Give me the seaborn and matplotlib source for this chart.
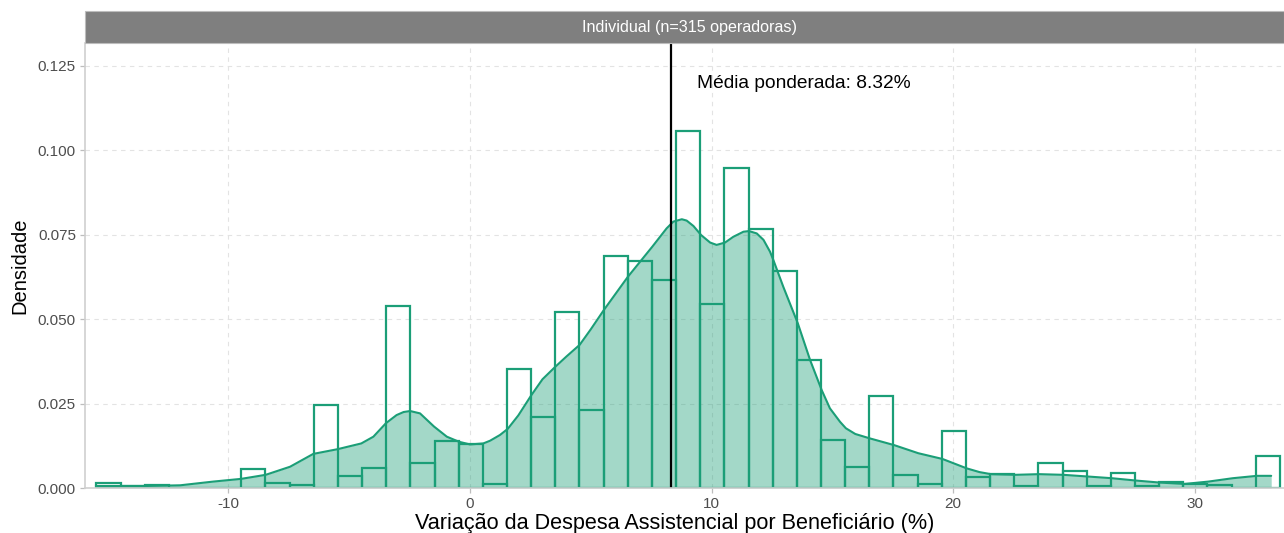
import pandas as pd
import seaborn as sns
import matplotlib.pyplot as plt
from matplotlib.patches import Rectangle

# Histogram (density per bin, bin width 1, first edge -15.47)
first_edge = -15.47
bin_width = 1.0
hist_density = [
    0.0014, 0.0005, 0.0008, 0.0, 0.0, 0.0, 0.0055, 0.0016, 0.0008, 0.0246,
    0.0036, 0.0058, 0.0540, 0.0073, 0.0139, 0.0129, 0.0012, 0.0352, 0.0211, 0.0520,
    0.0231, 0.0687, 0.0671, 0.0616, 0.1058, 0.0546, 0.0949, 0.0766, 0.0644, 0.0380,
    0.0142, 0.0063, 0.0273, 0.0039, 0.0012, 0.0168, 0.0034, 0.0041, 0.0007, 0.0075,
    0.0049, 0.0007, 0.0045, 0.0007, 0.0017, 0.0012, 0.0010, 0.0, 0.0095,
]

# Density curve
kde_x = [-15.49, -13.4, -12.0, -10.63, -9.48, -8.46, -7.45, -6.49, -5.48, -4.5,
         -4.0, -3.48, -3.04, -2.75, -2.48, -2.07, -1.49, -0.96, -0.46, 0.0,
         0.55, 0.83, 1.24, 1.56, 2.0, 2.54, 3.0, 3.53, 4.0, 4.54,
         5.0, 5.54, 6.54, 7.55, 8.14, 8.42, 8.77, 8.97, 9.25, 9.57,
         9.94, 10.21, 10.56, 10.9, 11.32, 11.55, 11.87, 12.15, 12.42, 12.56,
         12.97, 13.57, 14.08, 14.56, 14.9, 15.32, 15.56, 15.95, 16.55, 17.56,
         18.56, 19.56, 20.57, 21.1, 21.57, 22.57, 23.56, 24.57, 25.58, 26.57,
         27.58, 28.57, 29.58, 30.57, 31.58, 32.58, 33.17]
kde_y = [0.0006, 0.0006, 0.0008, 0.0019, 0.0027, 0.0039, 0.0063, 0.0101, 0.0115, 0.0132,
         0.0152, 0.0192, 0.0216, 0.0225, 0.0228, 0.0221, 0.0182, 0.0152, 0.0137, 0.0129,
         0.0132, 0.0140, 0.0157, 0.0175, 0.0215, 0.0275, 0.0322, 0.0359, 0.0390, 0.0424,
         0.0470, 0.0527, 0.0626, 0.0715, 0.0769, 0.0789, 0.0796, 0.0792, 0.0776, 0.0749,
         0.0727, 0.0720, 0.0727, 0.0744, 0.0759, 0.0761, 0.0754, 0.0735, 0.0700, 0.0675,
         0.0596, 0.0488, 0.0379, 0.0290, 0.0236, 0.0196, 0.0177, 0.0160, 0.0147, 0.0127,
         0.0103, 0.0086, 0.0058, 0.0047, 0.0041, 0.0039, 0.0041, 0.0039, 0.0034, 0.0029,
         0.0022, 0.0016, 0.0012, 0.0019, 0.0029, 0.0036, 0.0036]

weighted_mean = 8.32
x_ticks = [-10, 0, 10, 20, 30]
y_ticks = [0.0, 0.025, 0.050, 0.075, 0.100, 0.125]
y_tick_labels = ["0.000", "0.025", "0.050", "0.075", "0.100", "0.125"]

green = "#1b9e77"

sns.set_theme(style="white")
plt.rcParams["font.family"] = ["Liberation Sans", "DejaVu Sans"]
plt.rcParams["axes.unicode_minus"] = False

edges = [first_edge + bin_width * i for i in range(len(hist_density) + 1)]
hist_df = pd.DataFrame({
    "center": [(a + b) / 2 for a, b in zip(edges[:-1], edges[1:])],
    "density": hist_density,
})

fig = plt.figure(figsize=(12.84, 5.33), dpi=100)
ax = fig.add_axes([85 / 1284, 45 / 533, 1 - 85 / 1284, 445 / 533])

sns.histplot(data=hist_df, x="center", weights="density", bins=edges, stat="count",
             fill=False, element="bars", color=green, linewidth=1.6, ax=ax)
ax.fill_between(kde_x, kde_y, color=green, alpha=0.4, linewidth=0)
sns.lineplot(x=kde_x, y=kde_y, color=green, linewidth=1.5, ax=ax)

ax.axvline(weighted_mean, color="black", linewidth=1.6)
ax.text(9.4, 0.1197, f"Média ponderada: {weighted_mean:.2f}%", fontsize=13.8,
        ha="left", va="center", color="black")

ax.set_xlim(-15.94, 33.7)
ax.set_ylim(0, 0.1318)
ax.set_xticks(x_ticks)
ax.set_yticks(y_ticks)
ax.set_yticklabels(y_tick_labels)
ax.grid(True, linestyle=(0, (4, 4)), color="#e3e3e3", linewidth=0.8)
ax.set_axisbelow(True)
for side in ["top", "right"]:
    ax.spines[side].set_visible(False)
for side in ["left", "bottom"]:
    ax.spines[side].set_color("#cfcfcf")
    ax.spines[side].set_linewidth(1.2)
ax.tick_params(axis="both", which="major", length=3.5, width=0.9, color="#bdbdbd",
               labelsize=11, labelcolor="#4d4d4d", pad=3, left=True, bottom=True)

ax.set_xlabel("Variação da Despesa Assistencial por Beneficiário (%)", fontsize=15.6,
              color="black")
ax.xaxis.set_label_coords((675 - 85) / 1199, -0.056)
ax.set_ylabel("Densidade", fontsize=14.5, color="black")
ax.yaxis.set_label_coords(-(85 - 29) / 1199, 0.5)

# facet strip
strip_bottom = 490 / 533
strip_h = 32 / 533
fig.patches.append(Rectangle((85 / 1284, strip_bottom), 1 - 85 / 1284, strip_h,
                             transform=fig.transFigure, facecolor="#7f7f7f",
                             edgecolor="#bdbdbd", linewidth=0.8, zorder=0))
fig.text(689 / 1284, strip_bottom + strip_h / 2,
         "Individual (n=315 operadoras)", color="white", fontsize=11.6,
         ha="center", va="center")

fig.savefig("out.png", dpi=100)
